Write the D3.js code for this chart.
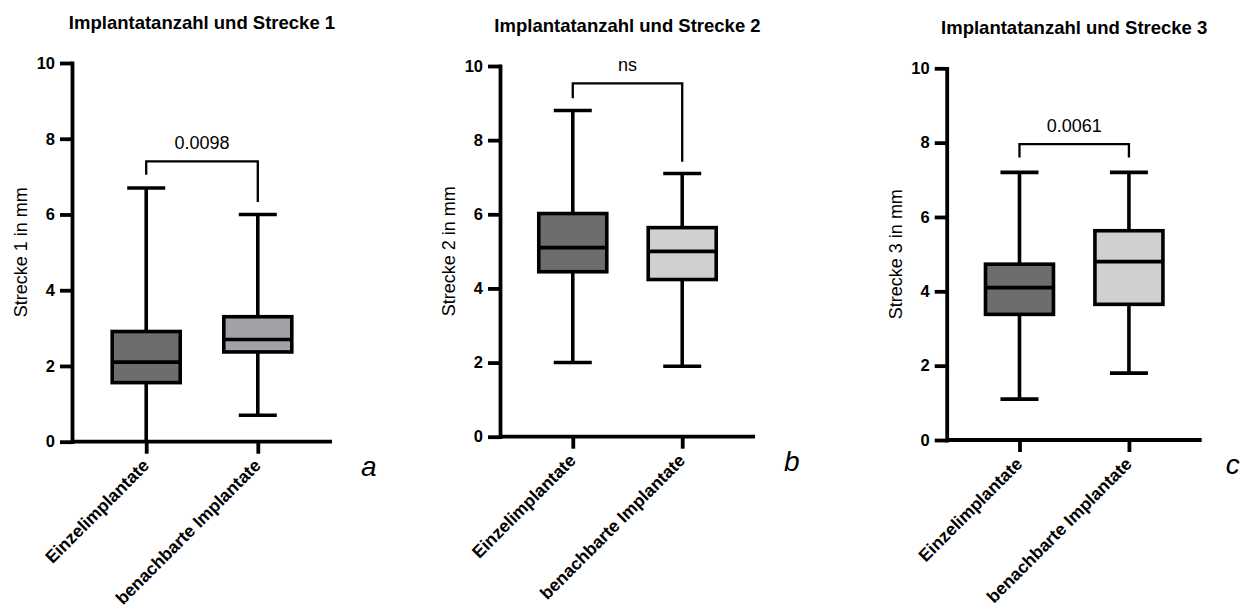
<!DOCTYPE html>
<html>
<head>
<meta charset="utf-8">
<script src="https://cdn.jsdelivr.net/npm/d3@7"></script>
<style>
  html, body { margin: 0; padding: 0; background: #fff; }
  svg { display: block; font-family: "Liberation Sans", Arial, Helvetica, sans-serif; }
</style>
</head>
<body>
<svg id="chart" width="1242" height="607"></svg>
<script>
// ---- data ----
const categories = ["Einzelimplantate", "benachbarte Implantate"];
const panelTitles = ["Implantatanzahl und Strecke 1", "Implantatanzahl und Strecke 2", "Implantatanzahl und Strecke 3"];
const yLabels = ["Strecke 1 in mm", "Strecke 2 in mm", "Strecke 3 in mm"];
const panelLetters = ["a", "b", "c"];
const yTicks = [0, 2, 4, 6, 8, 10];

// five-number summaries per panel: [min, q1, median, q3, max]
const strecke1 = [[0.0, 1.56, 2.1, 2.91, 6.7], [0.7, 2.37, 2.7, 3.3, 6.0]];
const strecke2 = [[2.0, 4.45, 5.1, 6.02, 8.8], [1.9, 4.24, 5.0, 5.64, 7.1]];
const strecke3 = [[1.1, 3.38, 4.1, 4.73, 7.2], [1.8, 3.65, 4.8, 5.63, 7.2]];

// significance brackets: label, bar level, left/right leg ends (mm)
const pLabels = ["0.0098", "ns", "0.0061"];
const bracketLevel = [7.4, 9.53, 7.96];
const bracketLegs = [[7.05, 6.33], [9.13, 7.42], [7.6, 7.6]];

// ---- layout ----
const panels = [
  { x0: 72,    x1: 332,    yTop: 63,   yBot: 441.7, letterDx: 29, fills: ["#6d6d6d", "#a2a1a5"] },
  { x0: 500,   x1: 755,    yTop: 66,   yBot: 436.7, letterDx: 29, fills: ["#6d6d6d", "#d0d0d0"] },
  { x0: 946.7, x1: 1201.7, yTop: 68.3, yBot: 440,   letterDx: 24, fills: ["#6d6d6d", "#d0d0d0"] }
];
const seriesByPanel = [strecke1, strecke2, strecke3];

const svg = d3.select("#chart");
const boxW = 68, capW = 38;

panels.forEach((p, i) => {
  const g = svg.append("g");
  const y = d3.scaleLinear().domain([0, 10]).range([p.yBot, p.yTop]);
  const x = d3.scalePoint().domain(categories).range([p.x0, p.x1]).padding(0.665);

  // title
  g.append("text")
    .attr("x", (p.x0 + p.x1) / 2).attr("y", p.yTop - 34)
    .attr("text-anchor", "middle")
    .attr("font-size", 18.5).attr("font-weight", "bold")
    .text(panelTitles[i]);

  // y axis
  const ya = g.append("g").attr("transform", `translate(${p.x0},0)`)
    .call(d3.axisLeft(y).tickValues(yTicks).tickSize(12).tickSizeOuter(0).tickPadding(5));
  ya.select(".domain").attr("stroke-width", 3.8).attr("stroke-linecap", "square");
  ya.selectAll(".tick line").attr("stroke-width", 3.8);
  ya.selectAll(".tick text").attr("font-size", 16.5).attr("font-weight", "bold")
    .attr("font-family", "Liberation Sans, Arial, sans-serif").attr("fill", "#000");

  // y label
  g.append("text")
    .attr("transform", `translate(${p.x0 - 45},${(p.yTop + p.yBot) / 2}) rotate(-90)`)
    .attr("text-anchor", "middle")
    .attr("font-size", 18)
    .text(yLabels[i]);

  // boxes
  const stats = seriesByPanel[i];
  categories.forEach((c, k) => {
    const [mn, q1, md, q3, mx] = stats[k];
    const cx = x(c);
    const bg = g.append("g").attr("stroke", "#000").attr("stroke-width", 3.6);
    bg.append("line").attr("x1", cx).attr("x2", cx).attr("y1", y(q3)).attr("y2", y(mx));
    bg.append("line").attr("x1", cx).attr("x2", cx).attr("y1", y(q1)).attr("y2", y(mn));
    bg.append("line").attr("x1", cx - capW / 2).attr("x2", cx + capW / 2).attr("y1", y(mx)).attr("y2", y(mx));
    if (mn > 0) {
      bg.append("line").attr("x1", cx - capW / 2).attr("x2", cx + capW / 2).attr("y1", y(mn)).attr("y2", y(mn));
    }
    bg.append("rect")
      .attr("x", cx - boxW / 2).attr("width", boxW)
      .attr("y", y(q3)).attr("height", y(q1) - y(q3))
      .attr("fill", p.fills[k]);
    bg.append("line").attr("x1", cx - boxW / 2).attr("x2", cx + boxW / 2).attr("y1", y(md)).attr("y2", y(md));
  });

  // x axis
  const xa = g.append("g").attr("transform", `translate(0,${p.yBot})`)
    .call(d3.axisBottom(x).tickSize(12).tickSizeOuter(0).tickFormat(""));
  xa.select(".domain").attr("d", `M${p.x0},0H${p.x1}`).attr("stroke-width", 3.8);
  xa.selectAll(".tick line").attr("stroke-width", 3.8);

  // rotated category labels
  categories.forEach(c => {
    g.append("text")
      .attr("transform", `translate(${x(c) + 4},${p.yBot + 25}) rotate(-45)`)
      .attr("text-anchor", "end")
      .attr("font-size", 17.5).attr("font-weight", "bold")
      .text(c);
  });

  // significance bracket
  const [l0, l1] = bracketLegs[i];
  const xl = x(categories[0]), xr = x(categories[1]);
  g.append("path")
    .attr("d", `M${xl},${y(l0)}V${y(bracketLevel[i])}H${xr}V${y(l1)}`)
    .attr("fill", "none").attr("stroke", "#000").attr("stroke-width", 2.3);
  g.append("text")
    .attr("x", (xl + xr) / 2).attr("y", y(bracketLevel[i]) - 12.5)
    .attr("text-anchor", "middle")
    .attr("font-size", 18)
    .text(pLabels[i]);

  // panel letter
  g.append("text")
    .attr("x", p.x1 + p.letterDx).attr("y", p.yBot + 34)
    .attr("font-size", 28).attr("font-style", "italic")
    .text(panelLetters[i]);
});
</script>
</body>
</html>
